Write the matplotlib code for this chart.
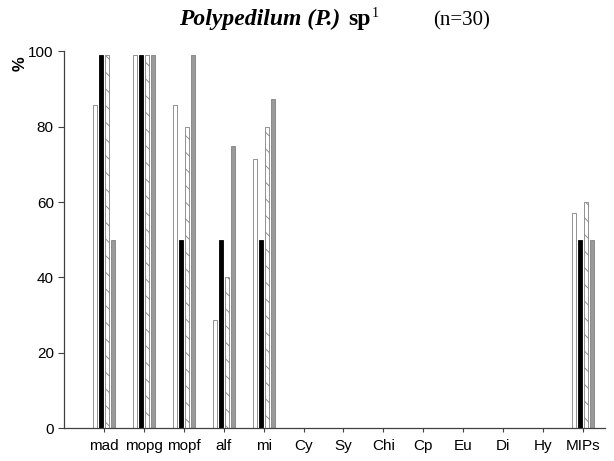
import numpy as np
import matplotlib
matplotlib.use("Agg")
import matplotlib.pyplot as plt

# ============ data ============
categories = ["mad", "mopg", "mopf", "alf", "mi", "Cy", "Sy", "Chi", "Cp", "Eu", "Di", "Hy", "MIPs"]
s_white = [85.7, 99, 85.7, 28.6, 71.4, 0, 0, 0, 0, 0, 0, 0, 57.1]
s_black = [99, 99, 50, 50, 50, 0, 0, 0, 0, 0, 0, 0, 50]
s_hatch = [99, 99, 80, 40, 80, 0, 0, 0, 0, 0, 0, 0, 60]
s_gray = [50, 99, 99, 75, 87.5, 0, 0, 0, 0, 0, 0, 0, 50]
y_ticks = [0, 20, 40, 60, 80, 100]

plt.rcParams['font.family'] = ['Liberation Sans', 'DejaVu Sans']
plt.rcParams['hatch.color'] = '#909090'
plt.rcParams['hatch.linewidth'] = 0.6

W, H = 614, 461
fig = plt.figure(figsize=(W/100, H/100), dpi=100)
ax = fig.add_axes([64/W, 1-428/H, 541/W, 376.5/H])

x = np.arange(len(categories))
w = 0.1
step = 0.15
edge = '#808080'
ax.bar(x - 1.5*step, s_white, w, color='white', edgecolor=edge, linewidth=0.6)
ax.bar(x - 0.5*step, s_black, w, color='black', edgecolor='black', linewidth=0.6)
ax.bar(x + 0.5*step, s_hatch, w, color='white', edgecolor=edge, linewidth=0.6, hatch='\\\\')
ax.bar(x + 1.5*step, s_gray, w, color='#999999', edgecolor='#808080', linewidth=0.6)

ax.set_xlim(-1, 12.55)
ax.set_ylim(0, 100)
ax.set_xticks(x)
ax.set_xticklabels(categories, fontsize=11)
ax.set_yticks(y_ticks)
ax.tick_params(axis='y', labelsize=11, length=4.3, width=0.8, color='#404040', pad=3)
ax.tick_params(axis='x', length=3, width=0.8, color='#404040', pad=5)
for s in ['top', 'right']:
    ax.spines[s].set_visible(False)
for s in ['left', 'bottom']:
    ax.spines[s].set_color('#404040')
    ax.spines[s].set_linewidth(0.9)

fig.text(20/W, 1-64/H, "%", fontsize=12, fontweight='bold', rotation=90, ha='center', va='center')

# title pieces (baseline ~ y=25 px), chained so gaps follow the real text widths
tb = 1 - 25/H
t1 = fig.text(179/W, tb, "Polypedilum (P.)", family='Liberation Serif', fontsize=17,
              fontweight='bold', style='italic', ha='left', va='baseline')
fig.canvas.draw()
r = fig.canvas.get_renderer()
x1 = t1.get_window_extent(r).x1
t2 = fig.text((x1 + 8)/W, tb, "sp", family='Liberation Serif', fontsize=17,
              fontweight='bold', ha='left', va='baseline')
x2 = t2.get_window_extent(r).x1
fig.text((x2 + 1)/W, 1 - 17/H, "1", family='Liberation Serif', fontsize=10, ha='left', va='baseline')
fig.text(433/W, tb, "(n=30)", family='Liberation Serif', fontsize=15, ha='left', va='baseline')

fig.savefig("out.png", dpi=100)
